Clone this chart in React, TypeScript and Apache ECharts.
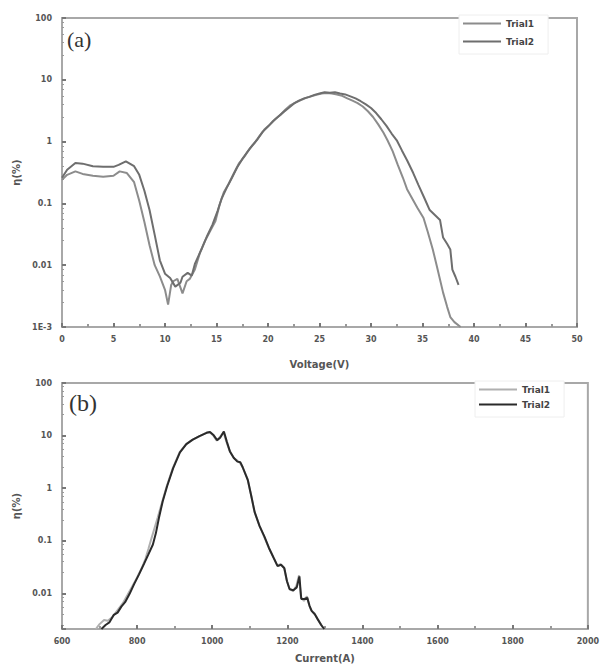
import React, { useEffect, useRef } from "react";
import * as echarts from "echarts";

// ---- (a) efficiency vs voltage ----
const voltageTicks = [0, 5, 10, 15, 20, 25, 30, 35, 40, 45, 50];
const aTrial1: [number, number][] = [
  [0, 0.24], [0.5, 0.29], [1.3, 0.33], [2, 0.30], [3, 0.28], [4, 0.27], [5, 0.28], [5.6, 0.33], [6.3, 0.31], [7, 0.22],
  [7.5, 0.11], [8, 0.05], [8.5, 0.021], [9, 0.010], [9.5, 0.0066], [10, 0.0040], [10.3, 0.0023], [10.6, 0.0048], [10.8, 0.0055], [11.2, 0.0060],
  [11.7, 0.0035], [12.1, 0.0055], [12.4, 0.0060], [12.9, 0.0085], [13.4, 0.016], [13.9, 0.025], [14.4, 0.036], [14.9, 0.052], [15.3, 0.095], [15.7, 0.15],
  [16.2, 0.21], [16.7, 0.31], [17.2, 0.45], [17.7, 0.57], [18.2, 0.76], [18.7, 0.95], [19.2, 1.25], [19.7, 1.6], [20.2, 1.9], [20.7, 2.3],
  [21.2, 2.7], [21.7, 3.3], [22.2, 3.9], [22.7, 4.3], [23.2, 4.7], [23.7, 5.1], [24.2, 5.4], [24.7, 5.7], [25.2, 6.0], [25.7, 6.1],
  [26.2, 6.0], [26.7, 5.8], [27.2, 5.5], [27.7, 5.0], [28.2, 4.6], [28.7, 4.2], [29.2, 3.7], [29.7, 3.1], [30.2, 2.5], [30.7, 1.9],
  [31.2, 1.4], [31.6, 1.05], [32.1, 0.7], [32.6, 0.42], [33.1, 0.26], [33.5, 0.17], [34.0, 0.12], [34.5, 0.085], [35.1, 0.058], [35.5, 0.035],
  [36.0, 0.018], [36.4, 0.0095], [37.0, 0.0036], [37.4, 0.0021], [37.7, 0.00145], [38.1, 0.0012], [38.7, 0.001],
];
const aTrial2: [number, number][] = [
  [0, 0.26], [0.5, 0.35], [1.3, 0.45], [2, 0.44], [3, 0.40], [4, 0.39], [5, 0.39], [5.5, 0.42], [6.2, 0.48], [7, 0.40],
  [7.5, 0.29], [8, 0.16], [8.5, 0.078], [9, 0.031], [9.5, 0.012], [10, 0.0073], [10.5, 0.0062], [11, 0.0045], [11.5, 0.0052], [11.7, 0.0065],
  [12.2, 0.0075], [12.6, 0.0068], [12.9, 0.0105], [13.6, 0.019], [14.1, 0.03], [14.6, 0.045], [15.1, 0.075], [15.5, 0.12], [16.0, 0.18], [16.5, 0.26],
  [17.0, 0.38], [17.5, 0.52], [18.0, 0.68], [18.5, 0.88], [19.0, 1.1], [19.5, 1.45], [20.0, 1.75], [20.5, 2.15], [21.0, 2.55], [21.5, 3.0],
  [22.0, 3.5], [22.5, 4.1], [23.0, 4.6], [23.5, 5.0], [24.0, 5.3], [24.5, 5.7], [25.0, 6.0], [25.5, 6.3], [26.0, 6.2], [26.5, 6.3],
  [27.0, 6.0], [27.5, 5.8], [28.0, 5.4], [28.5, 5.0], [29.0, 4.5], [29.5, 4.0], [30.0, 3.5], [30.5, 2.9], [31.0, 2.3], [31.5, 1.8],
  [32.0, 1.35], [32.5, 1.05], [33.0, 0.72], [33.5, 0.5], [34.1, 0.31], [34.6, 0.2], [35.2, 0.12], [35.7, 0.078], [36.2, 0.065], [36.7, 0.054],
  [37.0, 0.028], [37.4, 0.022], [37.7, 0.018], [37.9, 0.0085], [38.2, 0.0065], [38.5, 0.0048],
];

// ---- (b) efficiency vs current ----
const currentTicks = [600, 800, 1000, 1200, 1400, 1600, 1800, 2000];
const bTrial1: [number, number][] = [
  [690, 0.0021], [700, 0.0026], [712, 0.0031], [722, 0.003], [735, 0.0036], [748, 0.0048], [762, 0.0065], [775, 0.0095], [788, 0.014], [800, 0.02],
  [812, 0.03], [822, 0.045], [830, 0.07], [838, 0.11], [846, 0.17], [855, 0.28], [867, 0.56], [879, 1.1], [895, 2.4], [913, 4.8],
  [930, 6.8], [947, 8.3], [965, 9.7], [985, 11.4], [993, 11.6], [1003, 10.0], [1012, 8.0], [1020, 9.3], [1030, 11.6], [1038, 7.5],
  [1046, 5.2], [1058, 3.7], [1068, 3.3], [1074, 3.0], [1080, 2.6], [1094, 1.5], [1104, 0.72], [1112, 0.36], [1125, 0.2], [1138, 0.12],
  [1150, 0.075], [1162, 0.05], [1173, 0.034], [1182, 0.036], [1191, 0.031], [1198, 0.018], [1205, 0.0125], [1215, 0.011], [1224, 0.014], [1231, 0.022],
  [1236, 0.0085], [1244, 0.0072], [1252, 0.0088], [1258, 0.006], [1263, 0.0048], [1272, 0.0042], [1280, 0.0033], [1289, 0.0026], [1297, 0.0021],
];
const bTrial2: [number, number][] = [
  [705, 0.0021], [716, 0.0025], [726, 0.0028], [738, 0.0039], [748, 0.0043], [758, 0.0056], [768, 0.0068], [780, 0.0098], [792, 0.015], [805, 0.023],
  [818, 0.036], [830, 0.055], [842, 0.085], [850, 0.14], [858, 0.27], [868, 0.56], [880, 1.1], [896, 2.4], [914, 4.8], [931, 6.9],
  [948, 8.4], [966, 9.8], [985, 11.3], [994, 11.7], [1004, 10.1], [1013, 8.2], [1021, 9.1], [1031, 12.0], [1039, 7.6], [1047, 5.0],
  [1057, 3.8], [1067, 3.2], [1075, 3.1], [1081, 2.5], [1095, 1.4], [1104, 0.7], [1113, 0.35], [1126, 0.19], [1139, 0.12], [1151, 0.073],
  [1163, 0.048], [1174, 0.033], [1183, 0.035], [1192, 0.03], [1199, 0.017], [1206, 0.012], [1216, 0.0115], [1225, 0.013], [1232, 0.021], [1237, 0.0078],
  [1245, 0.0078], [1253, 0.0082], [1259, 0.0058], [1265, 0.0046], [1273, 0.004], [1281, 0.0032], [1290, 0.0025], [1298, 0.0021],
];

const etaLabels: Record<string, string> = { "2": "100", "1": "10", "0": "1", "-1": "0.1", "-2": "0.01", "-3": "1E-3" };

function etaFormatter(v: number) {
  const e = Math.log10(v);
  const r = Math.round(e);
  if (Math.abs(e - r) > 1e-6) return "";
  return etaLabels[String(r)] ?? "";
}

const labelStyle = { fontSize: 8, fontWeight: "bold" as const, color: "#555", fontFamily: "DejaVu Sans" };
const nameStyle = { fontSize: 10, fontWeight: "bold" as const, color: "#555", fontFamily: "DejaVu Sans" };
const frameColor = "#a8a8a8";

function xAxisCfg(gridIndex: number, min: number, max: number, interval: number, name: string, nameGap: number) {
  return {
    gridIndex, type: "value", min, max, interval, name, nameLocation: "middle", nameGap,
    nameTextStyle: nameStyle,
    axisLine: { show: true, lineStyle: { color: frameColor, width: 2 } },
    axisTick: { show: true, inside: true, length: 4, lineStyle: { color: "#777", width: 2 } },
    minorTick: { show: true, splitNumber: 2, length: 3, lineStyle: { color: "#999", width: 2 } },
    axisLabel: { ...labelStyle, margin: 8, formatter: (v: number) => String(v) },
    splitLine: { show: false },
  };
}

function yAxisCfg(gridIndex: number, min: number) {
  return {
    gridIndex, type: "log", logBase: 10, min, max: 100, splitNumber: 5,
    name: "η(%)", nameLocation: "middle", nameGap: 40, nameRotate: 90,
    nameTextStyle: nameStyle,
    axisLine: { show: true, lineStyle: { color: frameColor, width: 2 } },
    axisTick: { show: true, inside: true, length: 4, lineStyle: { color: "#777", width: 2 } },
    minorTick: { show: true, splitNumber: 6, length: 2, lineStyle: { color: "#999", width: 1 } },
    axisLabel: { ...labelStyle, margin: 10, formatter: etaFormatter },
    splitLine: { show: false },
    minorSplitLine: { show: false },
  };
}

function legendCfg(left: number, top: number, gap: number, names: string[]) {
  return {
    left, top, orient: "vertical", itemWidth: 38, itemHeight: 2, itemGap: gap,
    icon: "rect", backgroundColor: "#fff", borderColor: "#eeeeee", borderWidth: 1,
    padding: [4, 14, 8, 4],
    data: names,
    formatter: (n: string) => n.replace("b-", ""),
    textStyle: { fontSize: 9, fontWeight: "bold", color: "#444", fontFamily: "DejaVu Sans" },
  };
}

function lineSeries(name: string, data: [number, number][], color: string, idx: number) {
  return {
    name, type: "line", data, xAxisIndex: idx, yAxisIndex: idx,
    showSymbol: false, symbol: "none", clip: true,
    lineStyle: { color, width: 2 }, itemStyle: { color },
  };
}

export default function App() {
  const ref = useRef<HTMLDivElement>(null);
  useEffect(() => {
    if (!ref.current) return;
    const chart = echarts.init(ref.current, undefined, { renderer: "svg" });
    chart.setOption({
      animation: false,
      backgroundColor: "#fff",
      grid: [
        { left: 62, top: 18, width: 515, height: 309, show: true, borderColor: frameColor, borderWidth: 2 },
        { left: 62, top: 383, width: 528, height: 248, show: true, borderColor: frameColor, borderWidth: 2 },
      ],
      xAxis: [
        { ...xAxisCfg(0, voltageTicks[0], voltageTicks[voltageTicks.length - 1], 5, "Voltage(V)", 32) },
        { ...xAxisCfg(1, currentTicks[0], currentTicks[currentTicks.length - 1], 200, "Current(A)", 24) },
      ],
      yAxis: [yAxisCfg(0, 0.001), yAxisCfg(1, 0.0021)],
      legend: [
        legendCfg(459, 15, 9, ["Trial1", "Trial2"]),
        legendCfg(475, 381, 6, ["b-Trial1", "b-Trial2"]),
      ],
      graphic: [
        { type: "text", left: 67, top: 28, z: 10, style: { text: "(a)", font: "22px 'Liberation Serif'", fill: "#333" } },
        { type: "text", left: 69, top: 391, z: 10, style: { text: "(b)", font: "24px 'Liberation Serif'", fill: "#333" } },
      ],
      series: [
        lineSeries("Trial1", aTrial1, "#8c8c8c", 0),
        lineSeries("Trial2", aTrial2, "#6e6e6e", 0),
        lineSeries("b-Trial1", bTrial1, "#b0b0b0", 1),
        lineSeries("b-Trial2", bTrial2, "#2a2a2a", 1),
      ],
    });
    return () => chart.dispose();
  }, []);
  return <div ref={ref} style={{ position: "fixed", left: 0, top: 0, width: 602, height: 664 }} />;
}
